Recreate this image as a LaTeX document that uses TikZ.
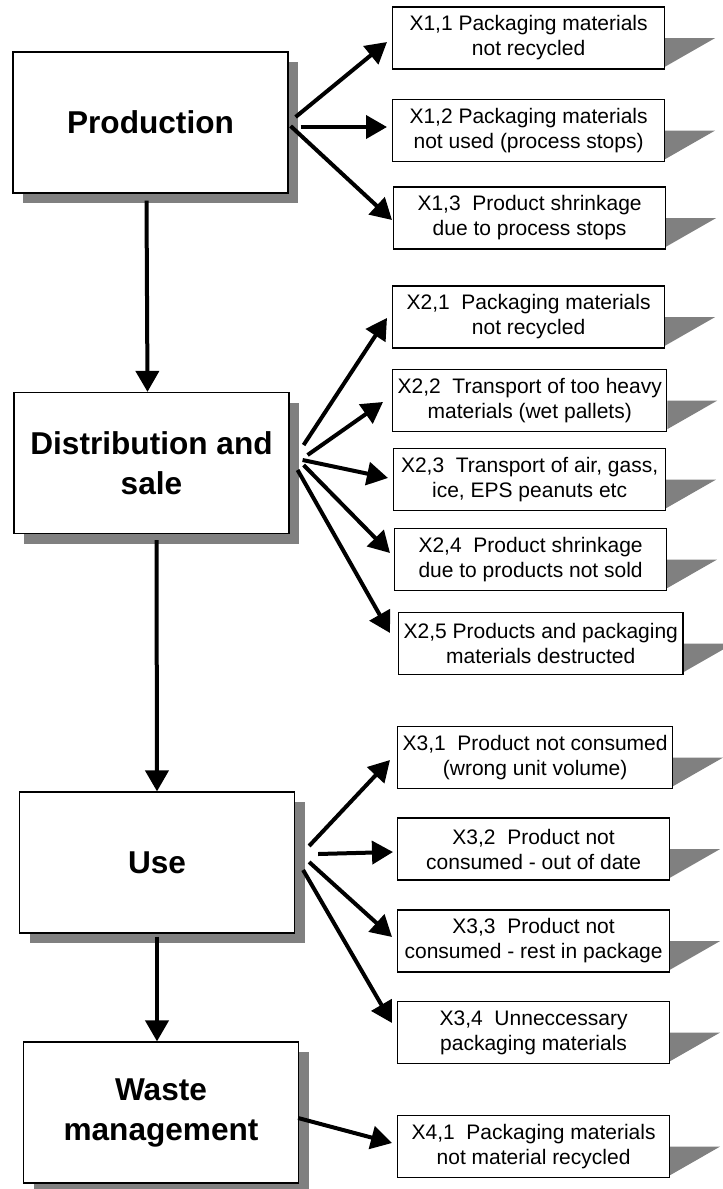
\documentclass[tikz,border=0pt]{standalone}
\usepackage{fontspec}
\setmainfont{Liberation Sans}
\usetikzlibrary{arrows.meta,shadows,backgrounds}

\tikzset{
  stage/.style={draw, line width=1.2pt, fill=white, minimum width=275pt, minimum height=141pt,
    align=center, font=\fontsize{31.6}{40}\selectfont\bfseries,
    drop shadow={shadow xshift=10pt, shadow yshift=-10pt, fill=black!50, opacity=1}},
  loss/.style={draw, line width=1.2pt, fill=white, anchor=west, minimum width=272pt, minimum height=62pt,
    align=center, inner xsep=5pt, font=\fontsize{21}{25}\selectfont},
  arr/.style={line width=4pt, -{Triangle[length=21pt,width=23pt]}},
  flagshade/.style={fill=black!50}
}

\begin{document}
\begin{tikzpicture}[x=1pt,y=-1pt]
		\useasboundingbox (0,0) rectangle (723,1189);

		% life cycle stages
		\node[stage] (prod)  at (150.5,122.5) {Production};
		\node[stage] (dist)  at (151.5,463)   {Distribution and\\sale};
		\node[stage] (use)   at (157,862.5)   {Use};
		\node[stage] (waste) at (161,1112.5)  {Waste\\management};

		% losses
		\node[loss] (x11) at (392,38)     {X1,1 Packaging materials\\not recycled};
		\node[loss] (x12) at (392,130.5)  {X1,2 Packaging materials\\not used (process stops)};
		\node[loss] (x13) at (393,218)    {X1,3~ Product shrinkage\\due to process stops};
		\node[loss] (x21) at (392,317)    {X2,1~ Packaging materials\\not recycled};
		\node[loss] (x22) at (392,400.5)  {X2,2~ Transport of too heavy\\materials (wet pallets)};
		\node[loss] (x23) at (393,479.5)  {X2,3~ Transport of air, gass,\\ice, EPS peanuts etc};
		\node[loss] (x24) at (394,559.5)  {X2,4~ Product shrinkage\\due to products not sold};
		\node[loss] (x25) at (398,643.5)  {X2,5 Products and packaging\\materials destructed};
		\node[loss] (x31) at (397,757.5)  {X3,1~ Product not consumed\\(wrong unit volume)};
		\node[loss] (x32) at (397,849)    {X3,2~ Product not\\consumed - out of date};
		\node[loss] (x33) at (397,941)    {X3,3~ Product not\\consumed - rest in package};
		\node[loss] (x34) at (397,1032.5) {X3,4~ Unneccessary\\packaging materials};
		\node[loss] (x41) at (397,1146.5) {X4,1~ Packaging materials\\not material recycled};

		\begin{scope}[on background layer]
			\foreach \n in {x11,x12,x13,x21,x22,x23,x24,x25,x31,x32,x33,x34,x41}
				\fill[flagshade] (\n.east) -- ++(50,0) -- ([shift={(0,-3)}]\n.south east) -- cycle;
		\end{scope}

		% flow down
		\draw[arr] ([shift={(-4,7)}]prod.south) -- ([shift={(-4,0)}]dist.north);
		\draw[arr] ([shift={(5,6)}]dist.south) -- (use.north);
		\draw[arr] ([shift={(0,3)}]use.south) -- ([shift={(-4,0)}]waste.north);

		\draw[arr] ([shift={(7,-5.5)}]prod.east) -- ([shift={(-5,4)}]x11.west);
		\draw[arr] ([shift={(12,4.5)}]prod.east) -- ([shift={(-5,-3.5)}]x12.west);
		\draw[arr] ([shift={(2,3.5)}]prod.east) -- ([shift={(-1,2)}]x13.west);

		\draw[arr] ([shift={(14,-18)}]dist.east) -- ([shift={(-5,1)}]x21.west);
		\draw[arr] ([shift={(18,-8)}]dist.east) -- ([shift={(-9,1.5)}]x22.west);
		\draw[arr] ([shift={(13,-3)}]dist.east) -- ([shift={(-5,-1.5)}]x23.west);
		\draw[arr] ([shift={(14,2)}]dist.east) -- ([shift={(-4,-6.5)}]x24.west);
		\draw[arr] ([shift={(8,7)}]dist.east) -- ([shift={(-8,-10.5)}]x25.west);

		\draw[arr] ([shift={(14,-16.5)}]use.east) -- ([shift={(-7,2.5)}]x31.west);
		\draw[arr] ([shift={(23,-8.5)}]use.east) -- ([shift={(-4,3)}]x32.west);
		\draw[arr] ([shift={(14,-0.5)}]use.east) -- ([shift={(-5,-4)}]x33.west);
		\draw[arr] ([shift={(8,7.5)}]use.east) -- ([shift={(-5,-9.5)}]x34.west);

		\draw[arr] ([shift={(-1,5.5)}]waste.east) -- ([shift={(-5,-3.5)}]x41.west);

\end{tikzpicture}
\end{document}
